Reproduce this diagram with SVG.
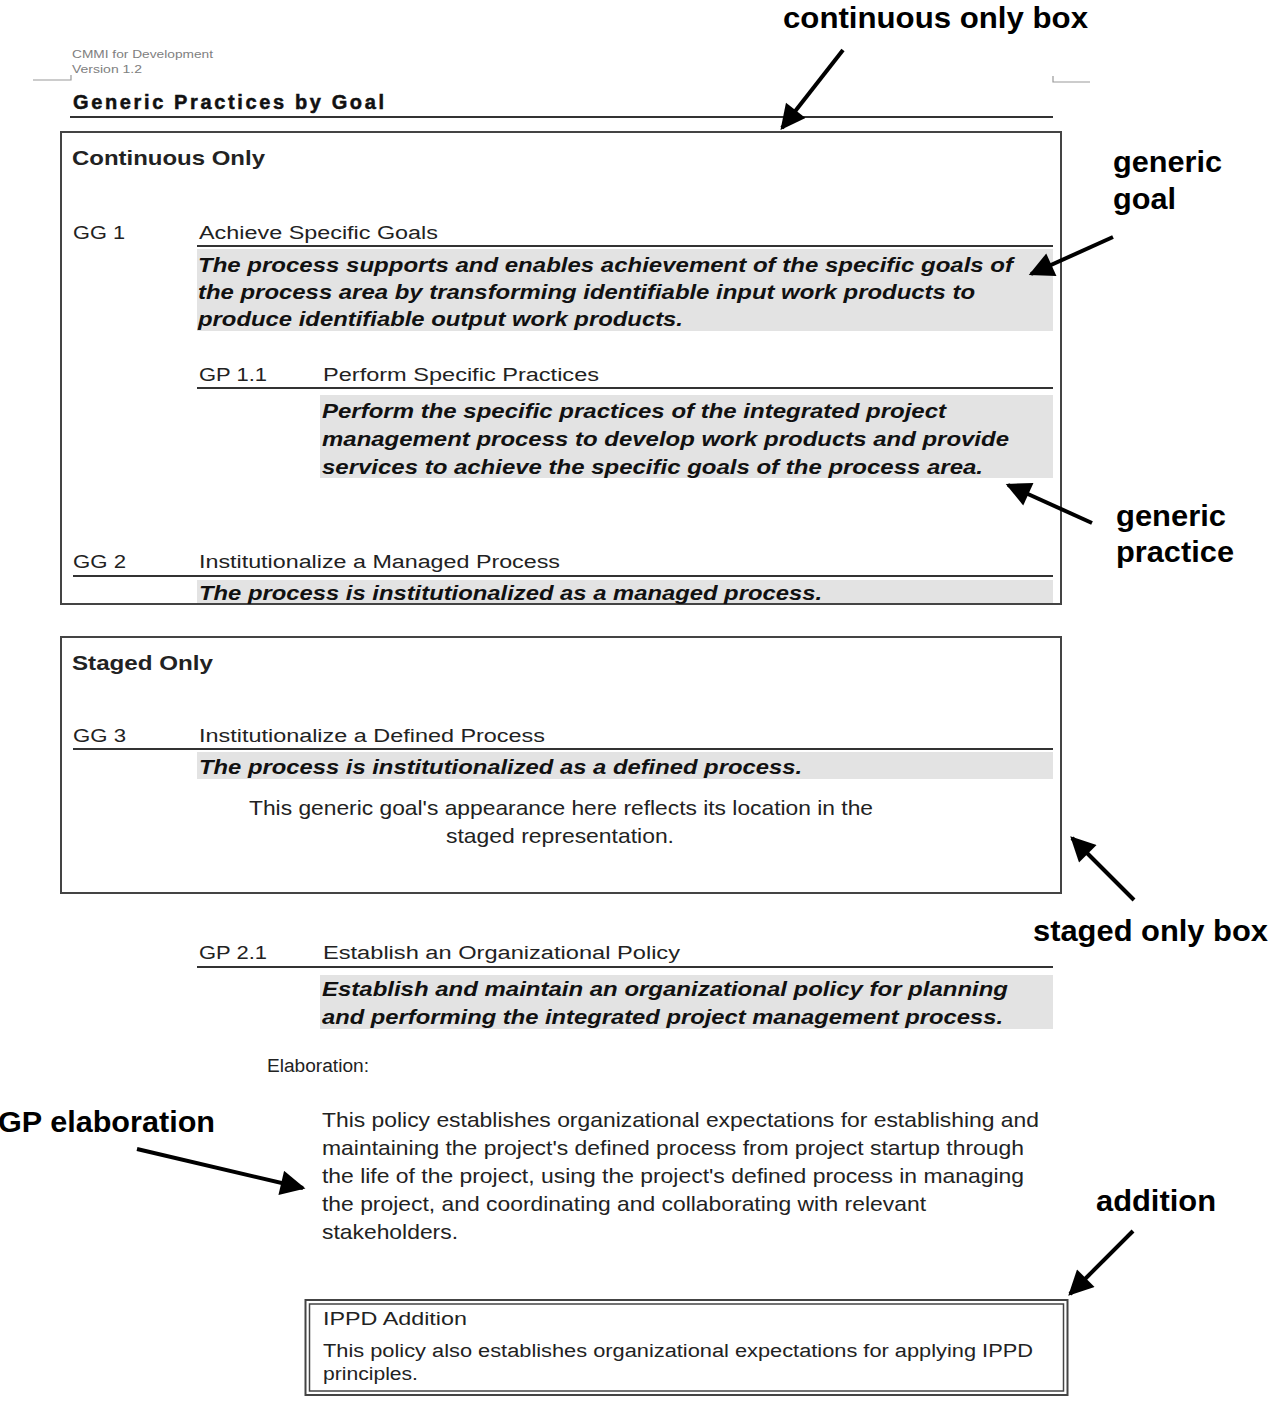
<svg xmlns="http://www.w3.org/2000/svg" width="1280" height="1408" viewBox="0 0 1280 1408">
<style>
.hdr{font-family:"Liberation Sans",Arial,sans-serif;font-size:10.5px;fill:#808080}
.title{font-family:"Liberation Sans",Arial,sans-serif;font-size:20px;font-weight:bold;fill:#111;stroke:#111;stroke-width:0.5}
.sec{font-family:"Liberation Sans",Arial,sans-serif;font-size:21px;font-weight:bold;fill:#222}
.lbl{font-family:"Liberation Sans",Arial,sans-serif;font-size:18px;fill:#222}
.desc{font-family:"Liberation Sans",Arial,sans-serif;font-size:21px;font-weight:bold;font-style:italic;fill:#111}
.body{font-family:"Liberation Sans",Arial,sans-serif;font-size:21px;fill:#222}
.ann{font-family:"Liberation Sans",Arial,sans-serif;font-size:29px;font-weight:bold;fill:#000}
.rule{stroke:#333;stroke-width:2;fill:none}
.box{stroke:#444;stroke-width:2;fill:none}
.shade{fill:#e3e3e3}
.arrow{stroke:#000;stroke-width:4;fill:none;marker-end:url(#ah)}
</style>
<defs>
<marker id="ah" viewBox="0 0 10 10" refX="9" refY="5" markerWidth="7" markerHeight="6.2" orient="auto" markerUnits="strokeWidth">
<path d="M0,0 L10,5 L0,10 z" fill="#000"/>
</marker>
</defs>
<rect width="1280" height="1408" fill="#fff"/>

<g id="page-header">
<text class="hdr" x="72" y="58" textLength="141" lengthAdjust="spacingAndGlyphs">CMMI for Development</text>
<text class="hdr" x="72" y="73" textLength="70" lengthAdjust="spacingAndGlyphs">Version 1.2</text>
<path d="M33,80 H71 V75" stroke="#999" stroke-width="1.2" fill="none"/>
<path d="M1053,76 V82 H1090" stroke="#999" stroke-width="1.2" fill="none"/>
<text class="title" x="73" y="109" textLength="311" lengthAdjust="spacing">Generic Practices by Goal</text>
<line class="rule" x1="70" y1="117" x2="1053" y2="117"/>
</g>

<g id="continuous-box">
<rect class="box" x="61" y="132" width="1000" height="472"/>
<text class="sec" x="72" y="165" textLength="193" lengthAdjust="spacingAndGlyphs">Continuous Only</text>
</g>

<g id="gg1">
<text class="lbl" x="73" y="239" textLength="52" lengthAdjust="spacingAndGlyphs">GG 1</text>
<text class="lbl" x="199" y="239" textLength="239" lengthAdjust="spacingAndGlyphs">Achieve Specific Goals</text>
<line class="rule" x1="197" y1="246" x2="1053" y2="246"/>
<rect class="shade" x="197" y="249" width="856" height="82"/>
<text class="desc" x="198" y="272" textLength="815" lengthAdjust="spacingAndGlyphs">The process supports and enables achievement of the specific goals of</text>
<text class="desc" x="198" y="299" textLength="777" lengthAdjust="spacingAndGlyphs">the process area by transforming identifiable input work products to</text>
<text class="desc" x="198" y="326" textLength="485" lengthAdjust="spacingAndGlyphs">produce identifiable output work products.</text>
</g>

<g id="gp11">
<text class="lbl" x="199" y="381" textLength="68" lengthAdjust="spacingAndGlyphs">GP 1.1</text>
<text class="lbl" x="323" y="381" textLength="276" lengthAdjust="spacingAndGlyphs">Perform Specific Practices</text>
<line class="rule" x1="197" y1="388" x2="1053" y2="388"/>
<rect class="shade" x="320" y="395" width="733" height="83"/>
<text class="desc" x="322" y="418" textLength="624" lengthAdjust="spacingAndGlyphs">Perform the specific practices of the integrated project</text>
<text class="desc" x="322" y="446" textLength="687" lengthAdjust="spacingAndGlyphs">management process to develop work products and provide</text>
<text class="desc" x="322" y="474" textLength="661" lengthAdjust="spacingAndGlyphs">services to achieve the specific goals of the process area.</text>
</g>

<g id="gg2">
<text class="lbl" x="73" y="568" textLength="53" lengthAdjust="spacingAndGlyphs">GG 2</text>
<text class="lbl" x="199" y="568" textLength="361" lengthAdjust="spacingAndGlyphs">Institutionalize a Managed Process</text>
<line class="rule" x1="73" y1="576" x2="1053" y2="576"/>
<rect class="shade" x="197" y="580" width="856" height="23"/>
<text class="desc" x="199" y="600" textLength="623" lengthAdjust="spacingAndGlyphs">The process is institutionalized as a managed process.</text>
</g>

<g id="staged-box">
<rect class="box" x="61" y="637" width="1000" height="256"/>
<text class="sec" x="72" y="670" textLength="141" lengthAdjust="spacingAndGlyphs">Staged Only</text>
</g>

<g id="gg3">
<text class="lbl" x="73" y="742" textLength="53" lengthAdjust="spacingAndGlyphs">GG 3</text>
<text class="lbl" x="199" y="742" textLength="346" lengthAdjust="spacingAndGlyphs">Institutionalize a Defined Process</text>
<line class="rule" x1="73" y1="749" x2="1053" y2="749"/>
<rect class="shade" x="197" y="752" width="856" height="27"/>
<text class="desc" x="199" y="774" textLength="603" lengthAdjust="spacingAndGlyphs">The process is institutionalized as a defined process.</text>
<text class="body" x="249" y="815" textLength="624" lengthAdjust="spacingAndGlyphs">This generic goal's appearance here reflects its location in the</text>
<text class="body" x="446" y="843" textLength="228" lengthAdjust="spacingAndGlyphs">staged representation.</text>
</g>

<g id="gp21">
<text class="lbl" x="199" y="959" textLength="68" lengthAdjust="spacingAndGlyphs">GP 2.1</text>
<text class="lbl" x="323" y="959" textLength="357" lengthAdjust="spacingAndGlyphs">Establish an Organizational Policy</text>
<line class="rule" x1="197" y1="967" x2="1053" y2="967"/>
<rect class="shade" x="320" y="975" width="733" height="54"/>
<text class="desc" x="322" y="996" textLength="686" lengthAdjust="spacingAndGlyphs">Establish and maintain an organizational policy for planning</text>
<text class="desc" x="322" y="1024" textLength="681" lengthAdjust="spacingAndGlyphs">and performing the integrated project management process.</text>
</g>

<g id="elaboration">
<text class="lbl" x="267" y="1072" textLength="102" lengthAdjust="spacingAndGlyphs">Elaboration:</text>
<text class="body" x="322" y="1127" textLength="717" lengthAdjust="spacingAndGlyphs">This policy establishes organizational expectations for establishing and</text>
<text class="body" x="322" y="1155" textLength="702" lengthAdjust="spacingAndGlyphs">maintaining the project's defined process from project startup through</text>
<text class="body" x="322" y="1183" textLength="702" lengthAdjust="spacingAndGlyphs">the life of the project, using the project's defined process in managing</text>
<text class="body" x="322" y="1211" textLength="604" lengthAdjust="spacingAndGlyphs">the project, and coordinating and collaborating with relevant</text>
<text class="body" x="322" y="1239" textLength="136" lengthAdjust="spacingAndGlyphs">stakeholders.</text>
</g>

<g id="ippd-addition">
<rect x="305.5" y="1300" width="762" height="95" stroke="#444" stroke-width="2" fill="none"/>
<rect x="309.5" y="1304" width="754" height="87" stroke="#444" stroke-width="1.5" fill="none"/>
<text class="lbl" x="323" y="1325" textLength="144" lengthAdjust="spacingAndGlyphs">IPPD Addition</text>
<text class="lbl" x="323" y="1357" textLength="710" lengthAdjust="spacingAndGlyphs">This policy also establishes organizational expectations for applying IPPD</text>
<text class="lbl" x="323" y="1380" textLength="95" lengthAdjust="spacingAndGlyphs">principles.</text>
</g>

<g id="annotations">
<text class="ann" x="783" y="28" textLength="305" lengthAdjust="spacingAndGlyphs">continuous only box</text>
<text class="ann" x="1113" y="172" textLength="109" lengthAdjust="spacingAndGlyphs">generic</text>
<text class="ann" x="1113" y="209" textLength="63" lengthAdjust="spacingAndGlyphs">goal</text>
<text class="ann" x="1116" y="526" textLength="110" lengthAdjust="spacingAndGlyphs">generic</text>
<text class="ann" x="1116" y="562" textLength="118" lengthAdjust="spacingAndGlyphs">practice</text>
<text class="ann" x="1033" y="941" textLength="235" lengthAdjust="spacingAndGlyphs">staged only box</text>
<text class="ann" x="-2" y="1132" textLength="217" lengthAdjust="spacingAndGlyphs">GP elaboration</text>
<text class="ann" x="1096" y="1211" textLength="120" lengthAdjust="spacingAndGlyphs">addition</text>
</g>

<g id="connectors">
<line class="arrow" x1="843" y1="50" x2="782" y2="128"/>
<line class="arrow" x1="1113" y1="237" x2="1031" y2="274"/>
<line class="arrow" x1="1092" y1="523" x2="1008" y2="485"/>
<line class="arrow" x1="1134" y1="900" x2="1072" y2="838"/>
<line class="arrow" x1="137" y1="1149" x2="303" y2="1188"/>
<line class="arrow" x1="1133" y1="1231" x2="1070" y2="1294"/>
</g>
</svg>
